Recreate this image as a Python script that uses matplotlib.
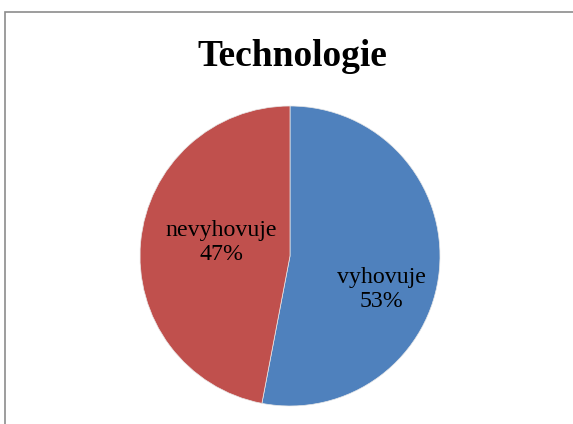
import matplotlib
matplotlib.use('Agg')
import matplotlib.pyplot as plt
from matplotlib.patches import Rectangle

categories = ['vyhovuje', 'nevyhovuje']
values = [53, 47]
colors = ['#4F81BD', '#C0504D']
label_pos = [(0.607, -0.225), (-0.46, 0.09)]

W, H = 573, 424
fig = plt.figure(figsize=(W / 100, H / 100), dpi=100)
fig.patch.set_facecolor('white')

# chart border (only left and top visible in the original)
fig.add_artist(Rectangle((5 / W, -0.05), 1.1, 1 - 12 / H + 0.05,
                         transform=fig.transFigure, fill=False,
                         edgecolor='#8c8c8c', linewidth=1.2))

ax = fig.add_axes([140 / W, 18 / H, 300 / W, 300 / H])
wedges, texts, autotexts = ax.pie(
    values, colors=colors, startangle=90, counterclock=False,
    radius=1, autopct=lambda p: '', wedgeprops=dict(edgecolor='#e8e8e8', linewidth=0.5))
for at, cat, val, pos in zip(autotexts, categories, values, label_pos):
    at.set_text(f'{cat}\n{val}%')
    at.set_position(pos)
    at.set_fontfamily('Liberation Serif')
    at.set_fontsize(17.2)
    at.set_ha('center')
    at.set_va('center')
    at.set_linespacing(1.2)
ax.set_xlim(-1, 1)
ax.set_ylim(-1, 1)
ax.set_aspect('equal')

fig.text(292 / W, 1 - 56 / H, 'Technologie', ha='center', va='center',
         fontfamily='Liberation Serif', fontweight='bold', fontsize=27)

fig.savefig('out.png', dpi=100)
